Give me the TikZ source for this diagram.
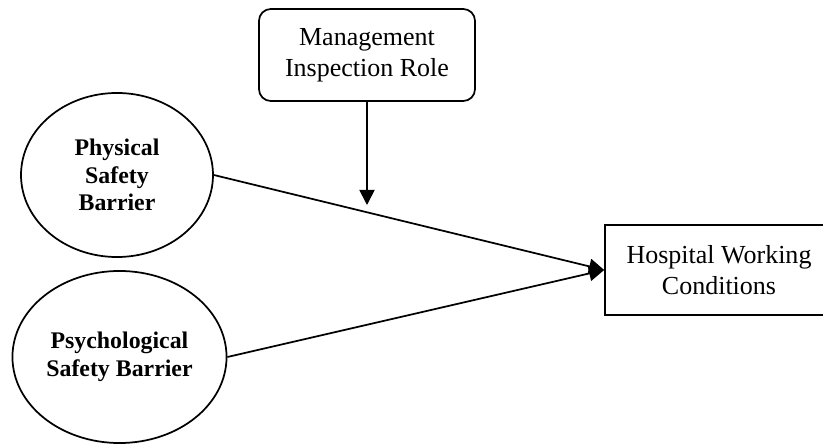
\documentclass[tikz,border=0pt]{standalone}
\usepackage{fontspec}
\setmainfont{Liberation Serif}
\usetikzlibrary{arrows.meta,shapes.geometric}

\begin{document}
\begin{tikzpicture}[x=0.4615pt, y=-0.4615pt, line width=0.8pt, >={Triangle[length=7pt,width=7pt]}]
        \tikzstyle{every node}=[draw, align=center, inner sep=0pt]
        \tikzstyle{factor}=[ellipse, font=\bfseries\fontsize{11}{12.7}\selectfont]
        \tikzstyle{block}=[rectangle, font=\fontsize{12}{14.4}\selectfont]
        \clip (0,0) rectangle (823,446);
        \node [block, rounded corners=5.5pt, minimum width=99.7pt, minimum height=42.5pt] (mir) at (367,55) {Management\\Inspection Role};
        \node [factor, minimum width=88.6pt, minimum height=75.7pt] (psb) at (117,175) {Physical\\Safety\\Barrier};
        \node [factor, minimum width=98.8pt, minimum height=79.4pt] (ysb) at (119.5,357) {Psychological\\Safety Barrier};
        \node [block, minimum width=105.2pt, minimum height=41.5pt] (hwc) at (719,270) {Hospital Working\\Conditions};
        \coordinate (mod) at (367,205);
        \draw [->] (psb.east) -- (hwc.west);
        \draw [->] (ysb.east) -- (hwc.west);
        \draw [->] (mir) -- (mod);
    \end{tikzpicture}
\end{document}
